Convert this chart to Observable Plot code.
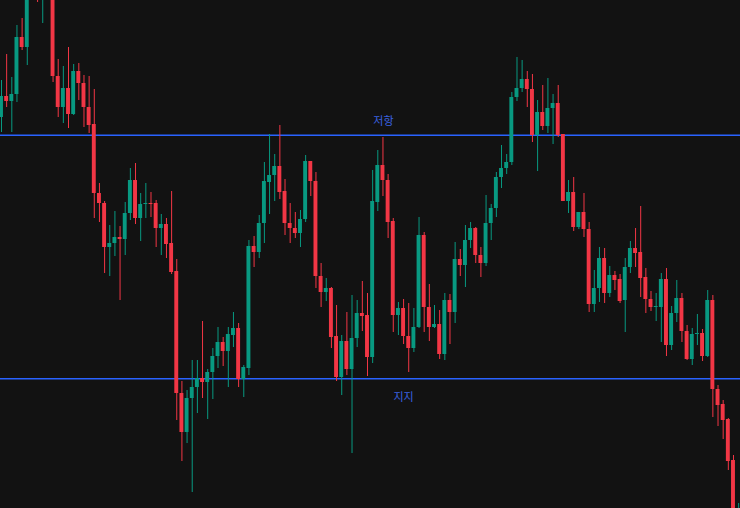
<!DOCTYPE html>
<html>
<head>
<meta charset="utf-8">
<script src="https://cdn.jsdelivr.net/npm/d3@7"></script>
<script src="https://cdn.jsdelivr.net/npm/@observablehq/plot@0.6"></script>
<style>
  html, body { margin: 0; padding: 0; background: #121212; overflow: hidden; }
  #chart svg { display: block; }
</style>
</head>
<body>
<div id="chart"></div>
<script>
const open = [383,404,399,406,463,453,512,530,514,535,545,424,393,412,386,429,417,393,376,307,297,253,257,263,261,287,320,282,296,297,297,272,276,257,229,107,68,102,113,122,118,128,144,158,149,165,172,121,132,254,248,277,318,325,334,309,277,272,267,281,339,319,224,208,212,164,123,159,131,162,187,185,143,298,335,320,279,185,192,164,152,173,265,193,173,176,146,200,188,241,235,260,272,245,237,277,292,323,332,338,403,412,421,411,365,388,374,392,397,366,299,308,273,288,271,196,212,242,207,225,221,200,233,252,248,223,201,193,193,221,155,187,202,169,141,166,167,144,200,111,96,81,40,-40];
const close = [404,399,406,463,453,512,530,514,535,545,424,393,412,386,429,417,393,375,307,297,253,257,263,261,287,320,282,296,297,296,272,276,256,228,107,68,102,113,122,118,128,144,158,149,166,172,121,133,254,248,277,319,325,334,308,277,272,267,281,339,319,224,208,212,163,123,159,131,162,187,184,143,299,335,320,278,185,192,164,152,173,265,193,173,176,146,200,188,241,235,260,272,245,237,277,292,323,332,338,403,412,421,411,365,388,374,392,397,365,299,308,273,288,271,196,212,242,207,225,220,199,233,252,247,222,201,193,194,221,155,187,202,169,141,166,167,144,200,111,95,80,39,-20,-10];
const high = [420,446,423,475,482,520,540,538,545,555,550,441,434,453,436,437,425,424,411,317,299,275,289,274,298,332,337,307,317,308,300,286,282,309,241,119,110,140,140,179,131,152,173,163,173,188,177,135,260,264,285,338,366,346,375,321,297,288,290,345,339,328,237,222,213,195,165,188,205,200,219,207,330,350,363,326,282,198,201,197,192,283,268,216,195,190,207,206,258,251,275,278,273,253,305,296,328,355,346,408,443,440,429,426,400,415,422,406,415,366,320,323,288,307,278,230,253,252,234,229,226,242,259,272,294,232,209,207,227,232,194,220,207,175,172,186,171,210,205,115,100,82,45,-3];
const low = [368,393,368,398,450,435,505,498,477,520,418,383,377,372,385,400,373,367,282,278,227,224,244,200,245,280,276,259,282,283,253,245,242,226,80,39,57,8,87,102,81,101,132,134,113,153,113,103,125,233,242,257,286,299,301,265,257,262,253,278,304,212,193,199,152,119,105,125,47,153,169,124,137,289,304,262,168,165,156,128,148,172,168,159,172,141,140,156,177,224,213,252,237,223,234,260,283,312,326,335,399,408,393,358,329,370,367,356,363,299,287,269,271,263,188,188,198,197,203,210,197,168,227,233,203,187,189,179,158,144,150,178,158,140,135,155,139,143,83,74,61,30,-30,-50];

const levels = [365.3, 121.7];
const levelLabels = ["저항", "지지"];

const candles = open.map((o, i) => ({i, o, c: close[i], h: high[i], l: low[i], up: close[i] >= o}));
const levelData = levels.map((v, k) => ({v, label: levelLabels[k]}));

const GREEN = "#089981", RED = "#f23645", BLUE = "#2962ff";

const chart = Plot.plot({
  width: 740,
  height: 508,
  margin: 0,
  style: {background: "#121212"},
  x: {domain: [-0.194, 143.36], axis: null},
  y: {domain: [-8, 500], axis: null},
  marks: [
    Plot.ruleY(levelData, {y: "v", stroke: BLUE, strokeWidth: 1.5}),
    Plot.ruleX(candles, {x: "i", y1: "l", y2: "h", stroke: d => d.up ? GREEN : RED, strokeWidth: 1, clip: true}),
    Plot.rect(candles, {x1: d => d.i - 0.38, x2: d => d.i + 0.38, y1: "o", y2: "c", fill: d => d.up ? GREEN : RED, clip: true}),
    Plot.text(levelData, {
      x: (d, k) => k === 0 ? 74.1 : 78.0,
      y: "v",
      dy: (0),
      text: "label",
      fill: "#3a62e0",
      fontSize: 11,
      fontFamily: "Noto Sans CJK KR",
      lineAnchor: "middle",
      frameAnchor: "middle"
    })
  ]
});
document.getElementById("chart").appendChild(chart);
// offset labels from their lines (resistance above, support below)
const texts = chart.querySelectorAll("g[aria-label='text'] text");
if (texts[0]) texts[0].setAttribute("dy", "-14");
if (texts[1]) texts[1].setAttribute("dy", "19");
</script>
</body>
</html>
